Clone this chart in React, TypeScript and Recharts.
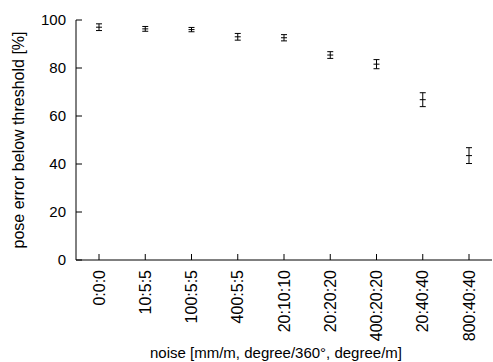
import React from 'react';
import {
  ComposedChart,
  Line,
  XAxis,
  YAxis,
  ErrorBar,
  Label,
} from 'recharts';

const noiseLevels = [
  '0:0:0',
  '10:5:5',
  '100:5:5',
  '400:5:5',
  '20:10:10',
  '20:20:20',
  '400:20:20',
  '20:40:40',
  '800:40:40',
];
const poseOk = [97.0, 96.3, 96.0, 93.0, 92.6, 85.4, 81.6, 66.8, 43.5];
const poseErr = [1.4, 1.0, 0.9, 1.4, 1.3, 1.4, 1.9, 2.9, 3.3];
const yTicks = [0, 20, 40, 60, 80, 100];

const FONT = '"Liberation Sans", Arial, sans-serif';

const data = noiseLevels.map((name, i) => ({
  name,
  value: poseOk[i],
  err: poseErr[i],
}));

const RotatedTick = (props: any) => {
  const { x, y, payload } = props;
  return (
    <text
      x={x}
      y={y}
      transform={`rotate(-90, ${x}, ${y})`}
      textAnchor="end"
      dy="0.35em"
      fontSize={16}
      fontFamily={FONT}
      fill="#000"
    >
      {payload.value}
    </text>
  );
};

const CrossDot = (props: any) => {
  const { cx, cy } = props;
  if (cx == null || cy == null) return null;
  return (
    <path
      d={`M${cx - 3},${cy}H${cx + 3}`}
      stroke="#000"
      strokeWidth={1}
      fill="none"
    />
  );
};

export default function App() {
  return (
    <div style={{ position: 'absolute', left: 0, top: 0, background: '#fff' }}>
      <ComposedChart
        width={493}
        height={362}
        data={data}
        margin={{ top: 20, right: 1, bottom: 0, left: 20 }}
      >
        <XAxis
          xAxisId="bottom"
          dataKey="name"
          orientation="bottom"
          height={102}
          interval={0}
          padding={{ left: 23, right: 23 }}
          stroke="#000"
          tickSize={-6}
          tickMargin={16}
          tick={<RotatedTick />}
        >
          <Label
            value="noise [mm/m, degree/360°, degree/m]"
            position="insideBottom"
            offset={4}
            dx={-8}
            style={{ fontSize: 15, fontFamily: FONT, fill: '#000' }}
          />
        </XAxis>
        <XAxis
          xAxisId="top"
          dataKey="name"
          orientation="top"
          height={0}
          interval={0}
          padding={{ left: 23, right: 23 }}
          stroke="#000"
          tickSize={-6}
          tick={false}
        />
        <YAxis
          yAxisId="left"
          domain={[0, 100]}
          ticks={yTicks}
          width={56}
          stroke="#000"
          tickSize={-6}
          tickMargin={16}
          tick={{ fontSize: 15, fontFamily: FONT, fill: '#000' }}
        >
          <Label
            value="pose error below threshold [%]"
            angle={-90}
            position="insideLeft"
            offset={-2}
            style={{ fontSize: 16, fontFamily: FONT, fill: '#000', textAnchor: 'middle' }}
          />
        </YAxis>
        <YAxis
          yAxisId="right"
          orientation="right"
          domain={[0, 100]}
          ticks={yTicks}
          width={0}
          stroke="#000"
          tickSize={-6}
          tick={false}
        />
        <Line
          xAxisId="bottom"
          yAxisId="left"
          dataKey="value"
          stroke="none"
          dot={<CrossDot />}
          activeDot={false}
          isAnimationActive={false}
        >
          <ErrorBar dataKey="err" direction="y" width={3} stroke="#000" strokeWidth={1} />
        </Line>
      </ComposedChart>
    </div>
  );
}
